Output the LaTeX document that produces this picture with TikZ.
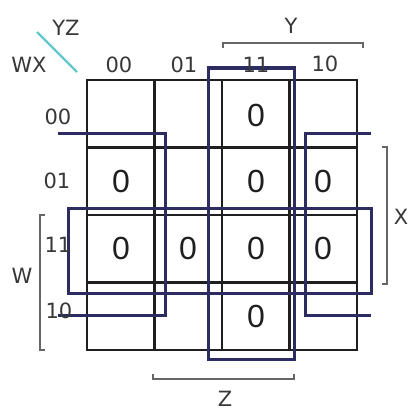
\documentclass[tikz,border=0pt]{standalone}
\usepackage{fontspec}
\setmainfont{Liberation Sans}
\newfontfamily\lblfont{DejaVu Sans}
\begin{document}
\begin{tikzpicture}[x=1pt,y=-1pt,
  lbl/.style={text=black!78,font=\lblfont\fontsize{21}{21}\selectfont,inner sep=0pt},
  cellv/.style={text=black!88,font=\fontsize{32}{32}\selectfont,inner sep=0pt},
  grid/.style={draw=black!88,line width=2.6pt},
  loopline/.style={draw={rgb,255:red,44;green,44;blue,96},line width=3pt},
  brace/.style={draw=black!60,line width=1.3pt}]
\useasboundingbox (0,0) rectangle (410,412);
% grid
\draw[grid] (87,80) rectangle (357,350);
\foreach \x in {154.5,222,289.5} \draw[grid] (\x,80) -- (\x,350);
\foreach \y in {147.5,215,282.5} \draw[grid] (87,\y) -- (357,\y);
% loops
\draw[loopline] (208,68) rectangle (294,359);
\draw[loopline] (68,208) rectangle (371,293);
\draw[loopline] (58,133) -- (165,133) -- (165,315) -- (58,315);
\draw[loopline] (371,133) -- (305,133) -- (305,315) -- (371,315);
% diagonal
\draw[draw={rgb,255:red,100;green,200;blue,200},line width=2.2pt] (37,32) -- (77,72);
\node[lbl] (yz) at (66,28) {YZ};
\node[lbl] (wx) at (29,65) {WX};
% column headers
\node[lbl] (c00) at (119,65) {00};
\node[lbl] (c01) at (184,65) {01};
\node[lbl] (c11) at (256,65) {11};
\node[lbl] (c10) at (325,64) {10};
% row headers
\node[lbl] (r00) at (58,117) {00};
\node[lbl] (r01) at (57,181) {01};
\node[lbl] (r11) at (58,245) {11};
\node[lbl] (r10) at (59,311) {10};
% brackets
\draw[brace] (223,48) -- (223,43) -- (363,43) -- (363,48);
\node[lbl] (ly) at (291,26) {Y};
\draw[brace] (382,147) -- (387,147) -- (387,284) -- (382,284);
\node[lbl] (lx) at (401,217) {X};
\draw[brace] (45,215) -- (40,215) -- (40,350) -- (45,350);
\node[lbl] (lw) at (22,276) {W};
\draw[brace] (153,374) -- (153,379) -- (294,379) -- (294,374);
\node[lbl] (lz) at (225,399) {Z};
% cell values
\node[cellv] (a1) at (256,115) {0};
\node[cellv] (b1) at (121,181) {0};
\node[cellv] (b3) at (256,181) {0};
\node[cellv] (b4) at (323,181) {0};
\node[cellv] (d1) at (121,248) {0};
\node[cellv] (d2) at (188,248) {0};
\node[cellv] (d3) at (256,248) {0};
\node[cellv] (d4) at (323,248) {0};
\node[cellv] (e3) at (256,316) {0};
\end{tikzpicture}
\end{document}
